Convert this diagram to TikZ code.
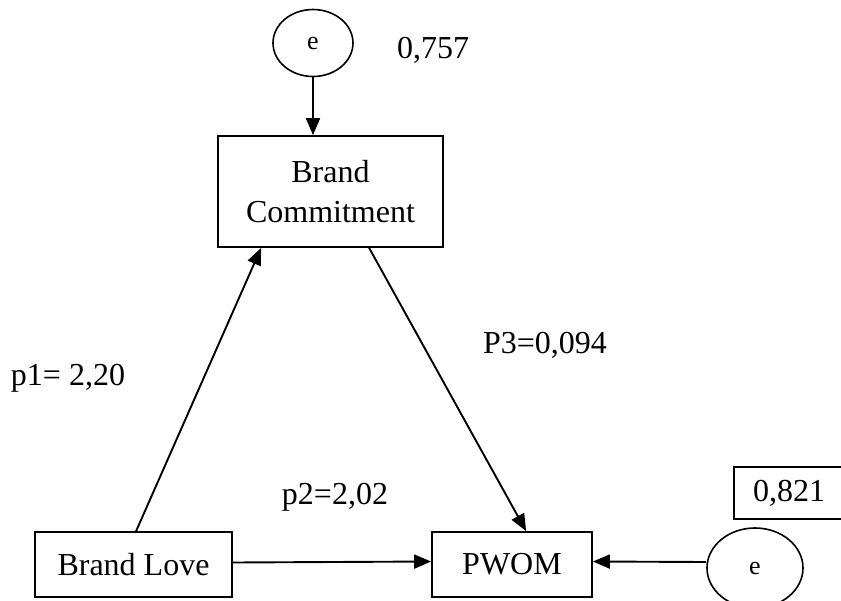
\documentclass[tikz,border=0pt]{standalone}
\usepackage{fontspec}
\setmainfont{Liberation Serif}
\usetikzlibrary{arrows.meta,shapes.geometric,calc}
\begin{document}
\begin{tikzpicture}[x=1pt,y=-1pt,
  box/.style={draw,line width=1.8pt,inner sep=0pt,align=center,font=\fontsize{32}{40}\selectfont},
  err/.style={draw,ellipse,line width=1.6pt,inner sep=0pt,font=\fontsize{26}{30}\selectfont},
  lbl/.style={inner sep=0pt,font=\fontsize{32}{36}\selectfont},
  arr/.style={line width=1.9pt,-{Triangle[length=17pt,width=14pt]}}]
\useasboundingbox (0,0) rectangle (841,600);
\node[box,minimum width=225pt,minimum height=111pt] (bc) at (330.5,191.5) {Brand\\Commitment};
\node[box,minimum width=197pt,minimum height=65pt] (bl) at (133.5,564.5) {Brand Love};
\node[box,minimum width=160pt,minimum height=65pt] (pw) at (512,564.5) {PWOM};
\node[err,minimum width=80pt,minimum height=67pt] (e1) at (313,43) {e};
\node[err,minimum width=96pt,minimum height=80pt] (e2) at (755,568) {e};
\node[box,minimum width=110pt,minimum height=52pt] (r2) at (789,493) {0,821};
\node[lbl] (r1) at (433,50) {0,757};
\node[lbl] (p1) at (68,378) {p1= 2,20};
\node[lbl] (p3) at (545,345) {P3=0,094};
\node[lbl] (p2) at (335,497) {p2=2,02};
\draw[arr] (e1.south) -- (e1.south |- bc.north);
\draw[arr] ($(bl.north west)+(102,0)$) -- ($(bc.south west)+(44,0)$);
\draw[arr] ($(bc.south west)+(152,0)$) -- ($(pw.north west)+(95,0)$);
\draw[arr] ($(bl.east)+(0,-2)$) -- ($(pw.west)+(0,-3)$);
\draw[arr] ($(e2.west)+(0,-6)$) -- ($(pw.east)+(0,-3)$);
\end{tikzpicture}
\end{document}
